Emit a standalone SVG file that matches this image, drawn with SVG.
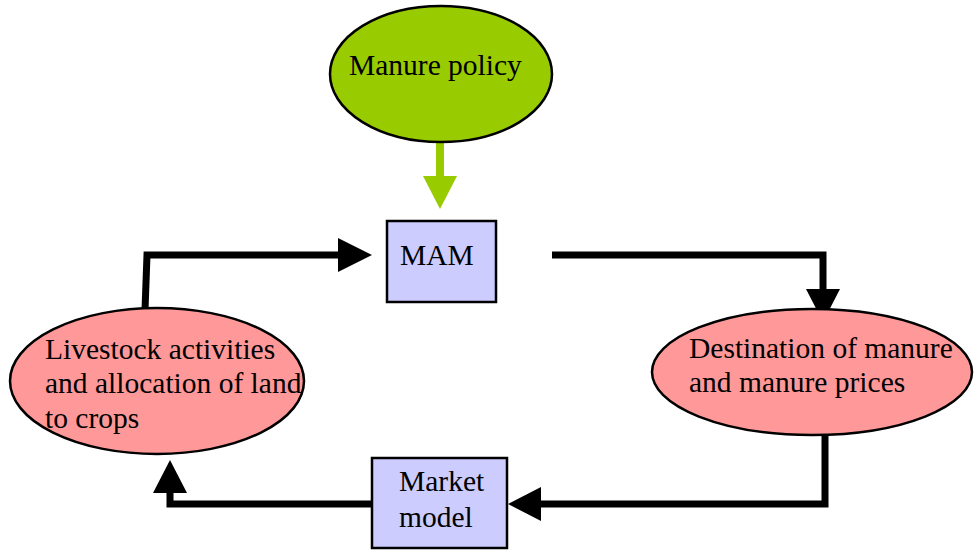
<svg xmlns="http://www.w3.org/2000/svg" width="974" height="550" viewBox="0 0 974 550">
<style>
.t{font-family:"Liberation Serif","Times New Roman",serif;font-size:29.5px;fill:#000}
.oval{stroke:#000;stroke-width:2.5}
.box{fill:#ccccff;stroke:#000;stroke-width:2.5}
.ln{fill:none;stroke:#000;stroke-width:7}
</style>
<rect width="974" height="550" fill="#fff"/>
<g id="connectors">
<line x1="440" y1="142" x2="440" y2="177" stroke="#99cc00" stroke-width="8"/>
<polygon points="423,176 457,176 440,209" fill="#99cc00"/>
<polyline class="ln" points="145,310 147,255 339,255"/>
<polygon points="338,238 372,255 338,272" fill="#000"/>
<polyline class="ln" points="552,255 823,255 823,290"/>
<polygon points="806,289 840,289 823,322" fill="#000"/>
<polyline class="ln" points="825,435 825,504 540,504"/>
<polygon points="541,487 541,521 508,504" fill="#000"/>
<polyline class="ln" points="372,504 170,504 170,492"/>
<polygon points="153,493 187,493 170,460" fill="#000"/>
</g>
<g id="manure-policy">
<ellipse class="oval" cx="441" cy="74" rx="111" ry="68" fill="#99cc00"/>
<text class="t" x="349" y="75">Manure policy</text>
</g>
<g id="mam">
<rect class="box" x="387" y="221" width="109" height="81"/>
<text class="t" x="400" y="265">MAM</text>
</g>
<g id="livestock">
<ellipse class="oval" cx="157" cy="381" rx="147" ry="73" fill="#ff9999"/>
<text class="t" x="45" y="359">Livestock activities</text>
<text class="t" x="45" y="393">and allocation of land</text>
<text class="t" x="45" y="428">to crops</text>
</g>
<g id="destination">
<ellipse class="oval" cx="812" cy="372" rx="160" ry="63" fill="#ff9999"/>
<text class="t" x="689" y="358">Destination of manure</text>
<text class="t" x="689" y="392">and manure prices</text>
</g>
<g id="market-model">
<rect class="box" x="372" y="458" width="135" height="90"/>
<text class="t" x="399" y="491">Market</text>
<text class="t" x="399" y="527">model</text>
</g>
</svg>
